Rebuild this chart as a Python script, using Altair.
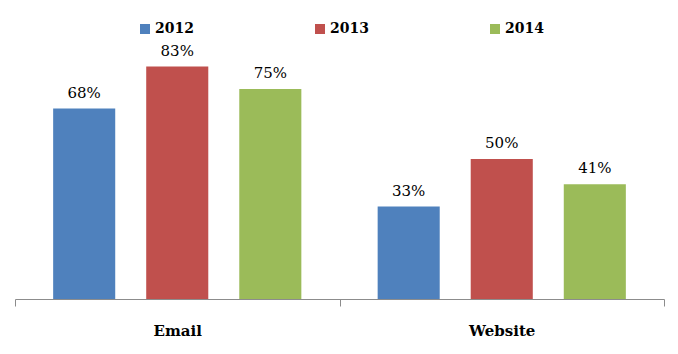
import altair as alt
import pandas as pd

categories = ["Email", "Website"]
years = ["2012", "2013", "2014"]
email_values = [68, 83, 75]
website_values = [33, 50, 41]
colors = ["#4F81BD", "#C0504D", "#9BBB59"]

FONT = "DejaVu Serif"

rows = []
for cat, vals in zip(categories, [email_values, website_values]):
    for y, v in zip(years, vals):
        rows.append({"category": cat, "year": y, "value": v, "label": f"{v}%"})
df = pd.DataFrame(rows)

x = alt.X("category:N", sort=categories, title=None,
          scale=alt.Scale(paddingInner=0, paddingOuter=0),
          axis=alt.Axis(labelAngle=0, labelFont=FONT, labelFontSize=15,
                        labelFontWeight="bold", labelColor="#000000", labelPadding=17,
                        domainColor="#8c8c8c", tickColor="#8c8c8c", tickSize=7,
                        tickBand="extent", domainWidth=1))
xo = alt.XOffset("year:N", sort=years,
                 scale=alt.Scale(paddingInner=0.333, paddingOuter=0.41))
y = alt.Y("value:Q", scale=alt.Scale(domain=[0, 100]), axis=None)

bars = alt.Chart(df).mark_bar().encode(
    x=x, xOffset=xo, y=y,
    color=alt.Color("year:N", sort=years,
                    scale=alt.Scale(domain=years, range=colors),
                    legend=alt.Legend(title=None, orient="none", direction="horizontal",
                                      legendX=123, legendY=3, symbolType="square",
                                      symbolSize=100, symbolStrokeWidth=0,
                                      labelFont=FONT, labelFontSize=14,
                                      labelFontWeight="bold", labelColor="#000000",
                                      columnPadding=119, labelOffset=3, padding=0)),
)

text = alt.Chart(df).mark_text(baseline="bottom", dy=-8, font=FONT,
                               fontSize=15, color="#000000").encode(
    x=x, xOffset=xo, y=y, text="label:N")

chart = alt.layer(bars, text).properties(
    width=649, height=280,
    autosize="none",
    padding={"left": 15, "top": 19, "right": 14, "bottom": 55},
).configure_view(stroke=None)

chart.save("out.html", embed_options={"renderer": "svg", "actions": False})
